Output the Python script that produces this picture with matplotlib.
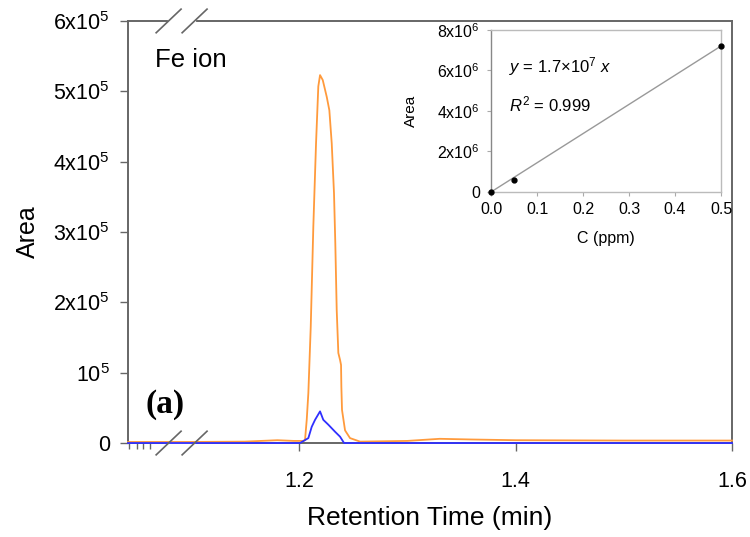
import numpy as np
import matplotlib
matplotlib.use("Agg")
import matplotlib.pyplot as plt
import matplotlib.transforms as mtransforms

plt.rcParams["font.family"] = ["Liberation Sans", "DejaVu Sans"]
plt.rcParams["mathtext.fontset"] = "custom"
plt.rcParams["mathtext.rm"] = "Liberation Sans"
plt.rcParams["mathtext.it"] = "Liberation Sans:italic"

# ── Chromatogram data (time in min, area in units of 1e5) ────────────────────
orange_t = [1.042, 1.10, 1.15, 1.18, 1.195, 1.2037, 1.2055, 1.2071, 1.2086,
            1.2108, 1.2132, 1.2157, 1.2178, 1.2194, 1.2219, 1.2256, 1.2280,
            1.2302, 1.2323, 1.2335, 1.2348, 1.2363, 1.2379, 1.2388, 1.2391,
            1.2397, 1.2425, 1.2471, 1.2564, 1.30, 1.33, 1.36, 1.40, 1.50, 1.60]
orange_y = [0.015, 0.015, 0.02, 0.04, 0.03, 0.03, 0.04, 0.33, 0.71,
            1.65, 3.08, 4.26, 5.07, 5.23, 5.16, 4.92, 4.73,
            4.26, 3.55, 2.84, 1.89, 1.28, 1.18, 1.11, 0.80,
            0.47, 0.18, 0.07, 0.02, 0.03, 0.06, 0.05, 0.04, 0.035, 0.035]

blue_t = [1.042, 1.15, 1.2009, 1.2086, 1.2117, 1.2148, 1.2194, 1.2224,
          1.2271, 1.2333, 1.2379, 1.2416, 1.30, 1.60]
blue_y = [0.0, 0.0, 0.0, 0.07, 0.23, 0.33, 0.45, 0.33,
          0.26, 0.16, 0.09, 0.0, 0.0, 0.0]

# ── Calibration inset data ───────────────────────────────────────────────────
conc = [0.0, 0.05, 0.5]
area = [0.0, 0.6e6, 7.22e6]

main_yticks = [0, 1, 2, 3, 4, 5, 6]
main_ylabels = ["0", r"10$^5$", r"2x10$^5$", r"3x10$^5$", r"4x10$^5$",
                r"5x10$^5$", r"6x10$^5$"]
main_xticks = [1.2, 1.4, 1.6]
main_xminor = [1.0425, 1.050, 1.056, 1.062]
inset_yticks = [0, 2e6, 4e6, 6e6, 8e6]
inset_ylabels = ["0", r"2x10$^6$", r"4x10$^6$", r"6x10$^6$", r"8x10$^6$"]
inset_xticks = [0.0, 0.1, 0.2, 0.3, 0.4, 0.5]

ORANGE = "#ff9a3c"
BLUE = "#2f2fff"
SPINE = "#666666"

fig = plt.figure(figsize=(7.5, 5.37), dpi=100)
ax = fig.add_axes([0.1707, 0.175, 0.8053, 0.786])

ax.set_xlim(1.042, 1.6)
ax.set_ylim(0, 6)
ax.set_yticks(main_yticks)
ax.set_yticklabels(main_ylabels)
ax.set_xticks(main_xticks)
ax.set_xticklabels(["1.2", "1.4", "1.6"])
ax.set_xticks(main_xminor, minor=True)
ax.tick_params(axis="both", which="major", direction="out", length=6,
               width=1, color=SPINE, labelsize=15.5)
ax.tick_params(axis="y", pad=7)
ax.tick_params(axis="x", pad=14)
ax.tick_params(axis="x", which="minor", direction="out", length=4,
               width=1, color=SPINE)
for s in ax.spines.values():
    s.set_color(SPINE)
    s.set_linewidth(1.4)

ax.set_xlabel("Retention Time (min)", fontsize=19, labelpad=10)
ax.set_ylabel("Area", fontsize=18, labelpad=10)

ax.text(1.0665, 5.45, "Fe ion", fontsize=18.5, va="center", ha="left")
ax.text(1.058, 0.55, "(a)", fontsize=24, fontweight="bold",
        family=["Liberation Serif", "DejaVu Serif"], va="center", ha="left")

# ── Axis break marks on the bottom and top spines ────────────────────────────
trans = mtransforms.blended_transform_factory(ax.transData, ax.transAxes)
brk_left, brk_right = 1.0795, 1.1035
dx, dy = 0.0115, 0.028
for yb in (0.0, 1.0):
    ax.plot([brk_left + 0.001, brk_right - 0.001], [yb, yb], color="white",
            lw=3, transform=trans, clip_on=False, zorder=2.8)
    for xb in (brk_left, brk_right):
        ax.plot([xb - dx, xb + dx], [yb - dy, yb + dy], color=SPINE, lw=1.2,
                transform=trans, clip_on=False, zorder=4)

# traces drawn above the spines so they run through the break
ax.plot(orange_t, orange_y, color=ORANGE, lw=1.3, zorder=3.2, clip_on=False)
ax.plot(blue_t, blue_y, color=BLUE, lw=1.3, zorder=3.3, clip_on=False)

# ── Inset calibration plot ───────────────────────────────────────────────────
ins = fig.add_axes([0.6547, 0.6425, 0.3067, 0.3017])
slope = np.dot(conc, area) / np.dot(conc, conc)
xfit = np.array([0.0, 0.5])
ins.plot(xfit, slope * xfit, color="#999999", lw=1.0)
ins.plot(conc, area, "o", color="black", ms=3.5, clip_on=False, zorder=5)
ins.set_xlim(0, 0.5)
ins.set_ylim(0, 8e6)
ins.set_yticks(inset_yticks)
ins.set_yticklabels(inset_ylabels)
ins.set_xticks(inset_xticks)
ins.set_xticklabels(["0.0", "0.1", "0.2", "0.3", "0.4", "0.5"])
ins.tick_params(direction="out", length=3, width=0.8, color="#aaaaaa",
                labelsize=11.5, pad=4)
ins.tick_params(axis="y", pad=5)
for s in ins.spines.values():
    s.set_color("#bbbbbb")
    s.set_linewidth(1.0)
ins.spines["left"].set_color("#888888")
ins.set_xlabel("C (ppm)", fontsize=11.5, labelpad=10)
ins.set_ylabel("Area", fontsize=11, labelpad=14)
ins.text(0.04, 6.2e6, r"$y$ = 1.7×10$^{7}$ $x$", fontsize=12, va="center")
ins.text(0.04, 4.3e6, r"$R^2$ = 0.999", fontsize=12, va="center")

fig.savefig("out.png", dpi=100, facecolor="white")
